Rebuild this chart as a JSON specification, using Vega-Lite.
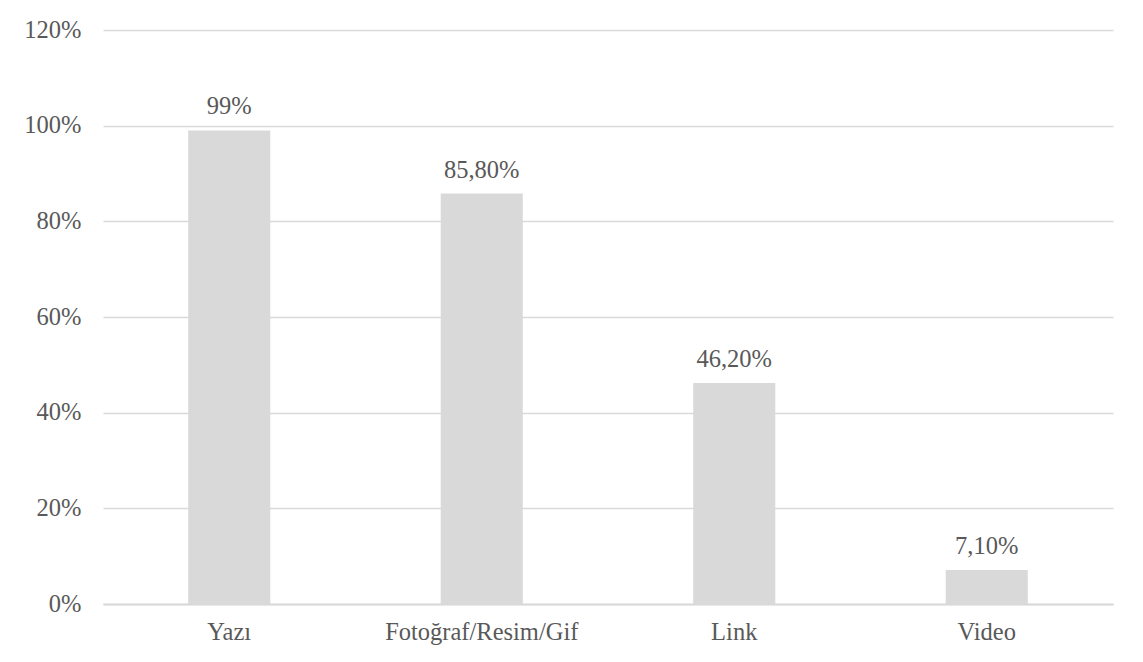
{
  "$schema": "https://vega.github.io/schema/vega-lite/v6.json",
  "autosize": "none",
  "width": 1010,
  "height": 574,
  "padding": {"left": 103, "top": 30, "right": 30, "bottom": 58},
  "background": "white",
  "config": {
    "view": {"stroke": null},
    "font": "Liberation Serif"
  },
  "data": {
    "values": [
      {"kategori": "Yazı", "oran": 0.99, "etiket": "99%"},
      {"kategori": "Fotoğraf/Resim/Gif", "oran": 0.858, "etiket": "85,80%"},
      {"kategori": "Link", "oran": 0.462, "etiket": "46,20%"},
      {"kategori": "Video", "oran": 0.071, "etiket": "7,10%"}
    ]
  },
  "encoding": {
    "x": {
      "field": "kategori",
      "type": "nominal",
      "sort": null,
      "scale": {"paddingInner": 0.675, "paddingOuter": 0.3375},
      "axis": {
        "title": null,
        "labelAngle": 0,
        "labelFont": "Liberation Serif",
        "labelFontSize": 24.5,
        "labelColor": "#595959",
        "labelPadding": 16,
        "labelLimit": 0,
        "ticks": false,
        "domainColor": "#d9d9d9",
        "domainWidth": 2
      }
    },
    "y": {
      "field": "oran",
      "type": "quantitative",
      "scale": {"domain": [0, 1.2], "nice": false},
      "axis": {
        "title": null,
        "format": ".0%",
        "values": [0, 0.2, 0.4, 0.6, 0.8, 1.0, 1.2],
        "labelFont": "Liberation Serif",
        "labelFontSize": 24.5,
        "labelColor": "#595959",
        "labelPadding": 22,
        "ticks": false,
        "domain": false,
        "gridColor": "#d9d9d9",
        "gridWidth": 1.5
      }
    }
  },
  "layer": [
    {"mark": {"type": "bar", "color": "#d9d9d9"}},
    {
      "mark": {
        "type": "text",
        "font": "Liberation Serif",
        "fontSize": 24.5,
        "color": "#595959",
        "baseline": "alphabetic",
        "dy": -16
      },
      "encoding": {"text": {"field": "etiket"}}
    }
  ]
}
